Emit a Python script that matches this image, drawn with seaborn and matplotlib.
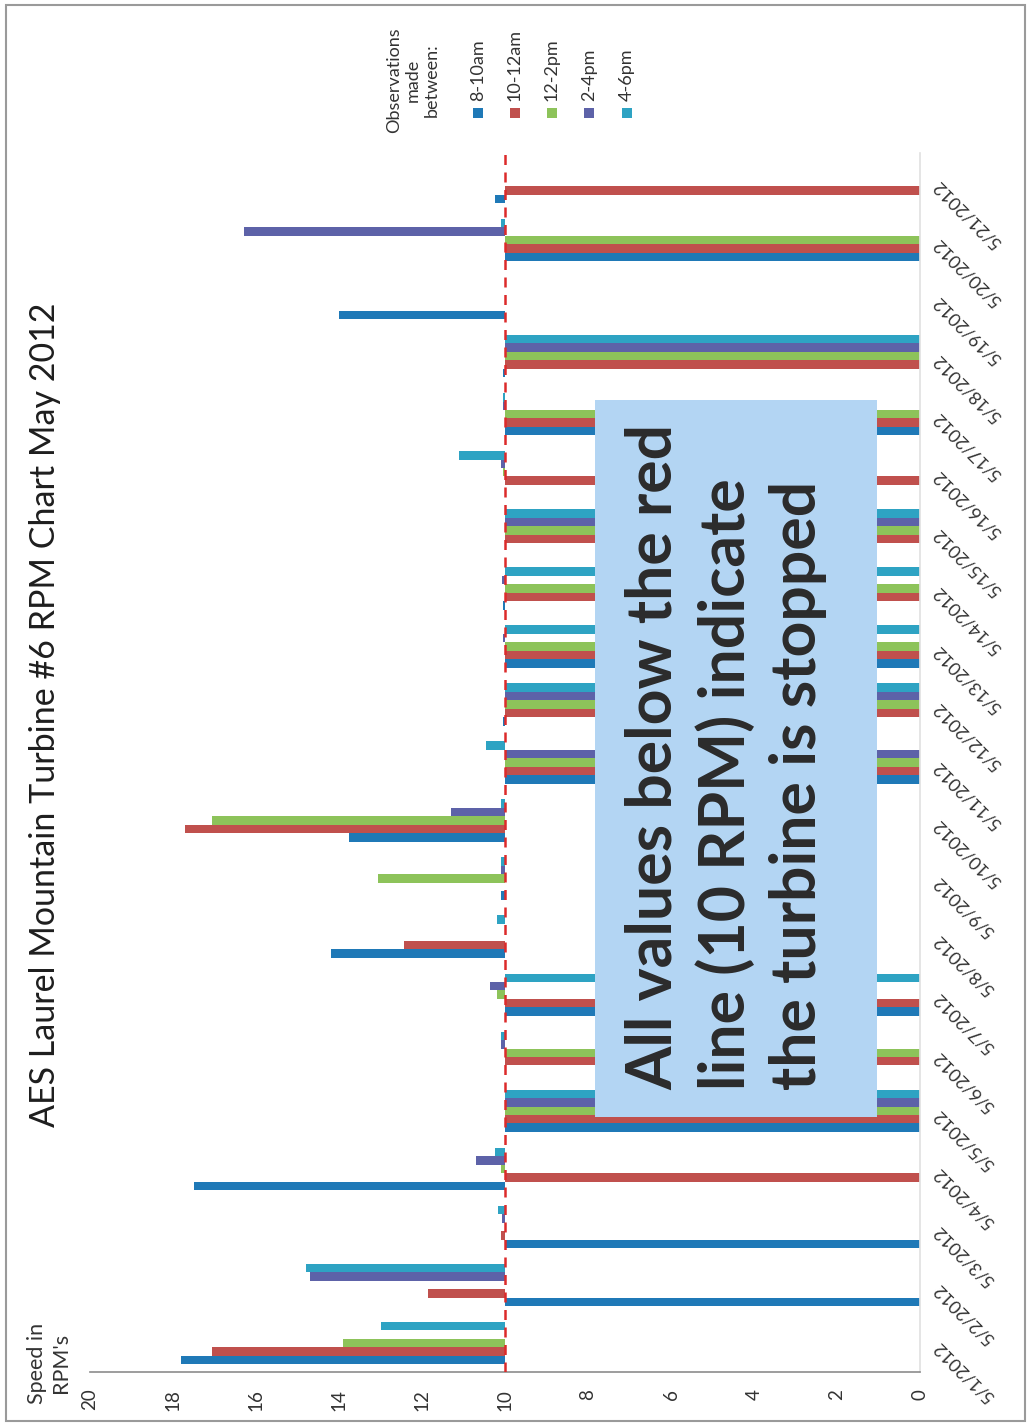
import matplotlib
matplotlib.use("Agg")
import matplotlib.pyplot as plt
from matplotlib.patches import Rectangle
from matplotlib.ticker import FuncFormatter
import numpy as np
import pandas as pd
import seaborn as sns

# ---------------------------------
# DATA
# ---------------------------------
dates = ['5/1/2012', '5/2/2012', '5/3/2012', '5/4/2012', '5/5/2012', '5/6/2012', '5/7/2012',
         '5/8/2012', '5/9/2012', '5/10/2012', '5/11/2012', '5/12/2012', '5/13/2012',
         '5/14/2012', '5/15/2012', '5/16/2012', '5/17/2012', '5/18/2012', '5/19/2012',
         '5/20/2012', '5/21/2012']
slots = ['8-10am', '10-12am', '12-2pm', '2-4pm', '4-6pm']
slot_colors = ['#1f79b7', '#c0504d', '#8dc35a', '#5d62a8', '#2ea3c3']

rpm_8_10am = [17.8, 0, 0, 17.5, 0, 10, 0, 14.2, 10.1, 13.75, 0,
              10.05, 0, 10.05, 10, 10, 0, 10.05, 14.0, 0, 10.25]
rpm_10_12am = [17.05, 11.85, 10.1, 0, 0, 0, 0, 12.43, 10, 17.7, 0,
               0, 0, 0, 0, 0, 0, 0, 10, 0, 0]
rpm_12_2pm = [13.9, 10, 10, 10.1, 0, 0, 10.2, 10, 13.05, 17.05, 0,
              0, 0, 0, 0, 10.05, 0, 0, 10, 0, 10]
rpm_2_4pm = [10, 14.7, 10.08, 10.7, 0, 10.1, 10.35, 10, 10.1, 11.3, 0,
             0, 10.05, 10.08, 0, 10.1, 10.05, 0, 10, 16.3, 10]
rpm_4_6pm = [13.0, 14.8, 10.17, 10.25, 0, 10.1, 0, 10.2, 10.1, 10.1, 10.45,
             0, 0, 0, 0, 11.1, 10.05, 0, 10, 10.1, 10]

stop_line = 10  # value axis crosses here
value_ticks = list(range(0, 21, 2))

title = "AES Laurel Mountain Turbine #6 RPM Chart May 2012"
axis_title = "Speed in\nRPM's"
legend_title = "Observations\nmade\nbetween:"
note = "All values below the red\nline (10 RPM) indicate\nthe turbine is stopped"

# long form table for seaborn; bars hang off the 10 RPM line
rpm_df = pd.DataFrame({
    'date': dates * len(slots),
    'slot': np.repeat(slots, len(dates)),
    'rpm': rpm_8_10am + rpm_10_12am + rpm_12_2pm + rpm_2_4pm + rpm_4_6pm,
})
rpm_df['offset'] = rpm_df['rpm'] - stop_line

# --------
# PLOTTING
# --------
W, H = 1030, 1425
sns.set_theme(style="white")
plt.rcParams['font.family'] = ['Lato', 'DejaVu Sans']


def fx(px):
    return px / W


def fy(py):
    return 1 - py / H


fig = plt.figure(figsize=(W / 100, H / 100), dpi=100)
ax = fig.add_axes([fx(90), fy(1372), fx(920) - fx(90), fy(153) - fy(1372)])

sns.barplot(data=rpm_df, y='date', x='offset', hue='slot', order=dates,
            hue_order=slots, palette=slot_colors, orient='y', width=0.73,
            errorbar=None, saturation=1, linewidth=0, legend=False, ax=ax)

ax.set_ylim(-0.5, len(dates) - 0.5)
ax.set_xlim(20 - stop_line, 0 - stop_line)
ax.set_xticks([t - stop_line for t in value_ticks])
ax.xaxis.set_major_formatter(FuncFormatter(lambda v, p: f"{v + stop_line:.0f}"))
ax.set_xlabel("")
ax.set_ylabel("")

# red dashed "stopped" threshold
ax.axvline(0, color='#dc2a2a', lw=1.8, ls=(0, (4, 3)), zorder=4)

for side in ['top', 'left']:
    ax.spines[side].set_visible(False)
ax.spines['bottom'].set_color('#8c8c8c')
ax.spines['bottom'].set_linewidth(1.2)
ax.spines['right'].set_color('#e2e2e2')

ax.tick_params(axis='x', direction='out', length=6, width=1, color='#8c8c8c',
               labelsize=13.5, labelcolor='#333333', pad=6, labelrotation=90)
ax.yaxis.tick_right()
ax.tick_params(axis='y', length=0, pad=11, labelsize=13, labelcolor='#333333')
for lbl in ax.get_yticklabels():
    lbl.set_rotation(135)
    lbl.set_ha('right')
    lbl.set_va('center')
    lbl.set_rotation_mode('anchor')

# title and axis title (rotated, as in the scan)
fig.text(fx(45), fy(715), title, rotation=90, ha='center', va='center',
         fontsize=24.5, color='#1e1e1e')
fig.text(fx(49), fy(1363), axis_title, rotation=90, ha='center', va='center',
         fontsize=15.5, color='#333333', multialignment='center')

# legend drawn by hand so it can be rotated
fig.text(fx(413), fy(80), legend_title, rotation=90, ha='center', va='center',
         fontsize=13, color='#333333', multialignment='center')
legend_x = [478, 515, 552, 589, 627]
for lx, name, col in zip(legend_x, slots, slot_colors):
    fig.add_artist(Rectangle((fx(lx - 5), fy(118)), fx(10), fy(108) - fy(118),
                             transform=fig.transFigure, color=col, lw=0))
    fig.text(fx(lx), fy(101), name, rotation=90, ha='center', va='bottom',
             fontsize=13, color='#333333')

# note box
fig.add_artist(Rectangle((fx(595), fy(1117)), fx(282), fy(400) - fy(1117),
                         transform=fig.transFigure, facecolor='#b3d5f3',
                         edgecolor='none', zorder=5))
fig.text(fx(726), fy(757), note, rotation=90, ha='center', va='center',
         multialignment='left', fontsize=45, fontweight='bold',
         color='#2b2b2b', linespacing=1.28, zorder=6)

# outer frame of the scanned chart
fig.add_artist(Rectangle((fx(6), fy(1421)), fx(1019), fy(5) - fy(1421),
                         transform=fig.transFigure, fill=False,
                         edgecolor='#9a9a9a', lw=1.5))

fig.savefig("out.png", dpi=100)
